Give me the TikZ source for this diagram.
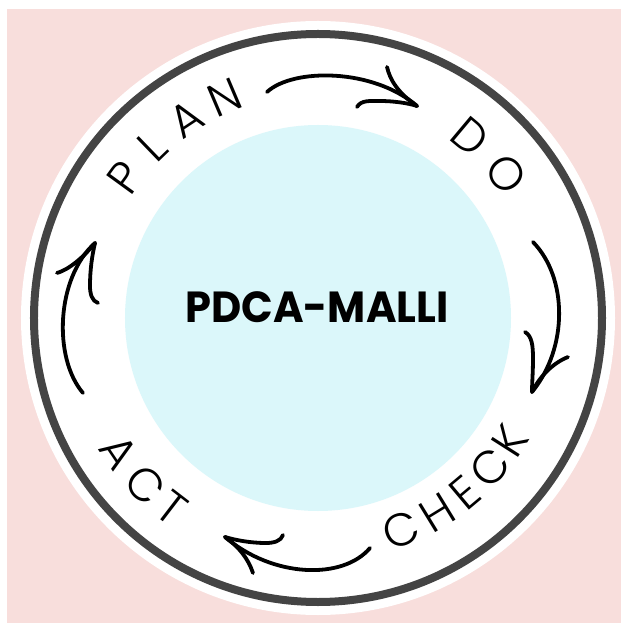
\documentclass[tikz,border=0pt]{standalone}
\usepackage{fontspec}
\IfFontExistsTF{Poppins Light}{\newfontfamily\ringfont{Poppins Light}}{\newfontfamily\ringfont{Poppins}}
\newfontfamily\titlefont{Poppins}
\definecolor{bgpink}{HTML}{F8DEDC}
\definecolor{ringgray}{HTML}{444444}
\definecolor{innercyan}{HTML}{DBF7FA}
\begin{document}
\begin{tikzpicture}[x=1pt,y=1pt,
  ringletter/.style={inner sep=0pt, font=\ringfont\fontsize{46}{46}\selectfont},
  handarrow/.style={line width=3.8pt, line cap=round, line join=round, black}]
\useasboundingbox (-318,-305) rectangle (303,318);
\fill[bgpink] (-311,-305) rectangle (303,309);
\fill[white] (0,0) circle (297);
\draw[ringgray, line width=8pt] (0,0) circle (284);
\fill[innercyan] (0,0) circle (193);
\node[anchor=base, inner sep=0pt, xscale=0.955, font=\titlefont\bfseries\fontsize{43.5}{44}\selectfont] (title) at (-1,-5) {PDCA-MALLI};
% top labels (tops outward)
\foreach \ch/\ang [count=\i] in {P/144, L/134, A/123.5, N/113}
  \node[ringletter, rotate=\ang-90] (plan\i) at (\ang:239) {\ch};
\foreach \ch/\ang [count=\i] in {D/50, O/37.5}
  \node[ringletter, rotate=\ang-90] (do\i) at (\ang:237) {\ch};
% bottom labels (tops inward)
\foreach \ch/\ang [count=\i] in {C/-68.5, H/-58.5, E/-50, C/-41, K/-32.5}
  \node[ringletter, rotate=\ang+90] (check\i) at (\ang:228) {\ch};
\foreach \ch/\ang [count=\i] in {A/-146, C/-136, T/-127.5}
  \node[ringletter, rotate=\ang+90] (act\i) at (\ang:240) {\ch};
% arrow PLAN -> DO
\draw[handarrow] (-51,226) .. controls (-25,250) and (55,250) .. (99,212);
\draw[handarrow] (69,251) .. controls (72,238) and (80,225) .. (99,212);
\draw[handarrow] (39,211) .. controls (43,218) and (52,217) .. (62,217) .. controls (75,217) and (90,215) .. (99,212);
% arrow DO -> CHECK
\draw[handarrow] (215,76) .. controls (250,40) and (250,-30) .. (214,-74);
\draw[handarrow] (207,-14) .. controls (214,-18) and (215,-28) .. (215,-40) .. controls (215,-55) and (214,-65) .. (214,-74);
\draw[handarrow] (250,-39) .. controls (235,-45) and (222,-58) .. (214,-74);
% arrow CHECK -> ACT
\draw[handarrow] (52,-230) .. controls (25,-262) and (-45,-260) .. (-93,-219);
\draw[handarrow] (-35,-217) .. controls (-37,-223) and (-44,-225) .. (-52,-225) .. controls (-68,-225) and (-83,-222) .. (-93,-219);
\draw[handarrow] (-65,-255) .. controls (-70,-240) and (-80,-228) .. (-93,-219);
% arrow ACT -> PLAN
\draw[handarrow] (-235,-75) .. controls (-265,-40) and (-262,40) .. (-223,75);
\draw[handarrow] (-261,45) .. controls (-250,48) and (-235,60) .. (-223,75);
\draw[handarrow] (-220,15) .. controls (-226,17) and (-228,24) .. (-228,32) .. controls (-228,48) and (-226,62) .. (-223,75);
\end{tikzpicture}
\end{document}
